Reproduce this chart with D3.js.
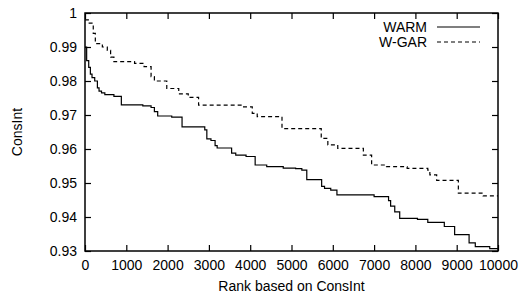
<!DOCTYPE html>
<html>
<head>
<meta charset="utf-8">
<script src="https://cdn.jsdelivr.net/npm/d3@7"></script>
<style>
  body { margin: 0; background: #fff; }
  text { font-family: "Liberation Sans", Arial, sans-serif; }
</style>
</head>
<body>
<svg id="chart" width="519" height="299"></svg>
<script>
// [rank, ConsInt] step points
const warm = [
	[0, 0.990], [40, 0.986], [90, 0.984], [130, 0.982], [170, 0.981], [235, 0.980],
	[300, 0.978], [340, 0.977], [400, 0.9765], [480, 0.976], [700, 0.9755], [880, 0.973],
	[1400, 0.9727], [1600, 0.9722], [1680, 0.971], [1760, 0.9697], [2100, 0.9694],
	[2350, 0.9665], [2900, 0.9656], [2950, 0.963], [3050, 0.9625], [3150, 0.961],
	[3200, 0.9603], [3550, 0.9588], [3650, 0.9582], [3900, 0.9578], [4120, 0.9553],
	[4400, 0.9548], [4800, 0.9544], [5100, 0.9542], [5250, 0.9538], [5370, 0.951],
	[5730, 0.949], [5800, 0.9484], [5950, 0.9479], [6100, 0.9465], [7000, 0.946],
	[7350, 0.9448], [7400, 0.9432], [7500, 0.9415], [7620, 0.9396], [8050, 0.9393],
	[8300, 0.9384], [8700, 0.9372], [8950, 0.9348], [9300, 0.9324], [9450, 0.9313],
	[9800, 0.9307], [10000, 0.9307]
];
const wgar = [
	[0, 0.998], [80, 0.997], [200, 0.994], [250, 0.991], [420, 0.990], [540, 0.989],
	[620, 0.987], [700, 0.9857], [1200, 0.9852], [1430, 0.9842], [1600, 0.9813],
	[1680, 0.980], [1980, 0.9778], [2270, 0.9762], [2500, 0.9752], [2750, 0.9729],
	[3800, 0.9724], [4050, 0.9705], [4170, 0.9695], [4770, 0.966], [5720, 0.9631],
	[5880, 0.9612], [6120, 0.9602], [6740, 0.9582], [6940, 0.9553], [7300, 0.9548],
	[7800, 0.9543], [8300, 0.9538], [8350, 0.9524], [8515, 0.9508], [9040, 0.947],
	[9640, 0.9462], [10000, 0.9462]
];
const series = [
	{ name: "WARM", values: warm, dash: null },
	{ name: "W-GAR", values: wgar, dash: "4,3" }
];
const xTicks = d3.range(0, 10001, 1000);
const yTicks = [0.93, 0.94, 0.95, 0.96, 0.97, 0.98, 0.99, 1];

const svg = d3.select("svg#chart");
const margin = { top: 13, right: 21, bottom: 48, left: 85 };
const chartWidth = 519 - margin.left - margin.right;
const chartHeight = 299 - margin.top - margin.bottom;
const chartArea = svg.append("g")
	.attr("transform", `translate(${margin.left},${margin.top})`);

const xScale = d3.scaleLinear([0, 10000], [0, chartWidth]);
const yScale = d3.scaleLinear([0.93, 1], [chartHeight, 0]);

const styleAxis = (g) => {
	g.select(".domain").remove();
	g.selectAll("line").attr("stroke", "#000").attr("stroke-width", 1.2);
	g.selectAll("text").attr("font-size", 14).attr("fill", "#000")
		.attr("font-family", "'Liberation Sans', Arial, sans-serif");
};

chartArea.append("g")
	.attr("transform", `translate(0,${chartHeight})`)
	.call(d3.axisBottom(xScale).tickValues(xTicks).tickFormat(d3.format("d"))
		.tickSizeInner(-6).tickSizeOuter(0).tickPadding(9))
	.call(styleAxis);
chartArea.append("g")
	.call(d3.axisTop(xScale).tickValues(xTicks).tickFormat("")
		.tickSizeInner(-6).tickSizeOuter(0))
	.call(styleAxis);
chartArea.append("g")
	.call(d3.axisLeft(yScale).tickValues(yTicks).tickFormat((d) => d === 1 ? "1" : d3.format(".2f")(d))
		.tickSizeInner(-6).tickSizeOuter(0).tickPadding(8))
	.call(styleAxis);
chartArea.append("g")
	.attr("transform", `translate(${chartWidth},0)`)
	.call(d3.axisRight(yScale).tickValues(yTicks).tickFormat("")
		.tickSizeInner(-6).tickSizeOuter(0))
	.call(styleAxis);

const line = d3.line()
	.curve(d3.curveStepAfter)
	.x((d) => xScale(d[0]))
	.y((d) => yScale(d[1]));

chartArea.selectAll(".series")
	.data(series)
	.enter()
	.append("path")
	.attr("d", (d) => line(d.values))
	.attr("fill", "none")
	.attr("stroke", "#000")
	.attr("stroke-width", 1.2)
	.attr("stroke-dasharray", (d) => d.dash);

chartArea.append("rect")
	.attr("width", chartWidth)
	.attr("height", chartHeight)
	.attr("fill", "none")
	.attr("stroke", "#000")
	.attr("stroke-width", 1.5);

// legend
const legend = chartArea.selectAll(".legend")
	.data(series)
	.enter()
	.append("g")
	.attr("transform", (d, i) => `translate(0,${14 + i * 15})`);
legend.append("text")
	.attr("x", 342)
	.attr("text-anchor", "end")
	.attr("dy", "0.35em")
	.attr("font-size", 14)
	.text((d) => d.name);
legend.append("line")
	.attr("x1", 352)
	.attr("x2", 395)
	.attr("stroke", "#000")
	.attr("stroke-width", 1.2)
	.attr("stroke-dasharray", (d) => d.dash);

svg.append("text")
	.attr("x", margin.left + chartWidth / 2)
	.attr("y", 291)
	.attr("text-anchor", "middle")
	.attr("font-size", 14)
	.text("Rank based on ConsInt");
svg.append("text")
	.attr("transform", `translate(22,${margin.top + chartHeight / 2}) rotate(-90)`)
	.attr("text-anchor", "middle")
	.attr("font-size", 14)
	.text("ConsInt");
</script>
</body>
</html>
